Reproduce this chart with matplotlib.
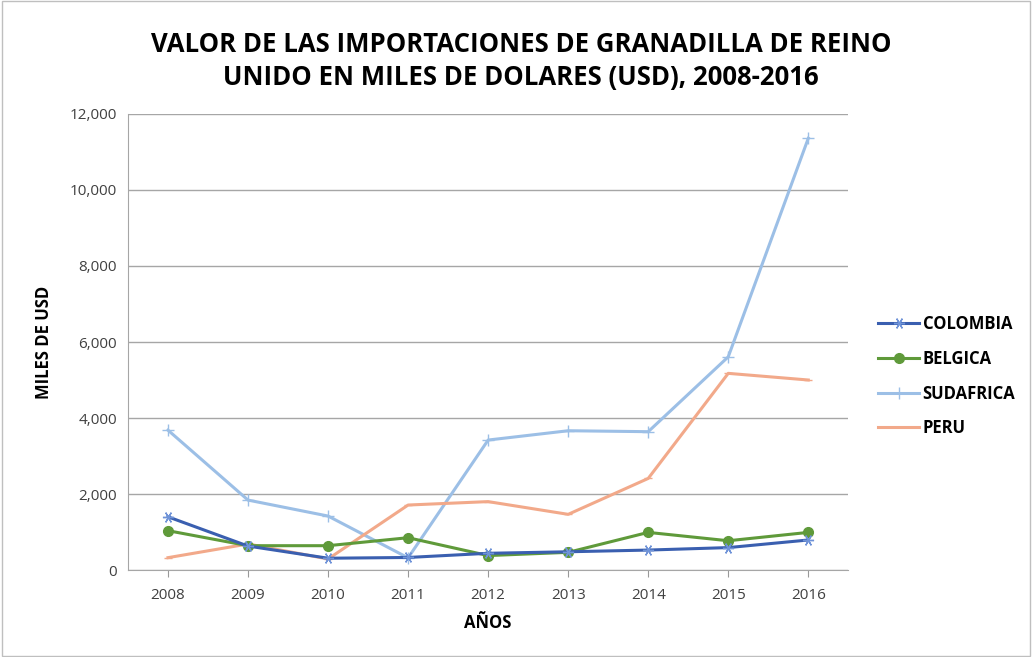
import matplotlib.pyplot as plt
from matplotlib.patches import Rectangle

# --- Data ---
YEARS = [2008, 2009, 2010, 2011, 2012, 2013, 2014, 2015, 2016]
COLOMBIA = [1400, 630, 310, 330, 440, 480, 525, 590, 790]
BELGICA = [1035, 640, 640, 850, 380, 465, 990, 770, 990]
SUDAFRICA = [3680, 1840, 1420, 320, 3420, 3665, 3640, 5610, 11360]
PERU = [325, 685, 290, 1710, 1800, 1465, 2410, 5175, 5000]

plt.rcParams['font.family'] = ['Open Sans', 'DejaVu Sans']

fig = plt.figure(figsize=(10.32, 6.57), dpi=100)
ax = fig.add_axes([0.124, 0.1324, 0.698, 0.6941])

# outer chart border
fig.patches.append(Rectangle((0.002, 0.002), 0.996, 0.996, transform=fig.transFigure,
                             fill=False, edgecolor='#bfbfbf', linewidth=1))

ax.plot(YEARS, COLOMBIA, color='#3a5fb0', linewidth=2.2, marker=(6, 2, 90),
        markersize=8, markeredgecolor='#6f93d8', markeredgewidth=1, label='COLOMBIA', zorder=5)
ax.plot(YEARS, BELGICA, color='#5f9a3a', linewidth=2.2, marker='o',
        markersize=7, label='BELGICA', zorder=4)
ax.plot(YEARS, SUDAFRICA, color='#9cbfe6', linewidth=2.2, marker='+',
        markersize=8, markeredgewidth=1, label='SUDAFRICA', zorder=3)
ax.plot(YEARS, PERU, color='#f2a98a', linewidth=2.2, marker='_',
        markersize=6, label='PERU', zorder=3)

ax.set_xlim(2007.5, 2016.5)
ax.set_ylim(0, 12000)
ax.set_xticks(YEARS)
ax.set_yticks(range(0, 12001, 2000))
ax.set_yticklabels([f"{v:,}" for v in range(0, 12001, 2000)])
ax.tick_params(axis='both', labelsize=11, colors='#404040', length=0, pad=8)
ax.tick_params(axis='x', length=5, color='#999999', direction='out')

ax.grid(axis='y', color='#a6a6a6', linewidth=1)
ax.set_axisbelow(True)
for side in ['top', 'right']:
    ax.spines[side].set_visible(False)
ax.spines['left'].set_color('#a6a6a6')
ax.spines['bottom'].set_color('#a6a6a6')

ax.set_xlabel('AÑOS', fontsize=12, fontweight='bold', labelpad=8)
ax.set_ylabel('MILES DE USD', fontsize=12, fontweight='bold', labelpad=12)

fig.text(0.505, 0.933, 'VALOR DE LAS IMPORTACIONES DE GRANADILLA DE REINO',
         ha='center', va='center', fontsize=18.5, fontweight='bold')
fig.text(0.505, 0.882, 'UNIDO EN MILES DE DOLARES (USD), 2008-2016',
         ha='center', va='center', fontsize=18.5, fontweight='bold')

leg = ax.legend(loc='center left', bbox_to_anchor=(1.02, 0.425), frameon=False,
                prop={'size': 12, 'weight': 'bold'}, handlelength=2.5,
                labelspacing=1.0, handletextpad=0.2)

fig.savefig('out.png', dpi=100)
